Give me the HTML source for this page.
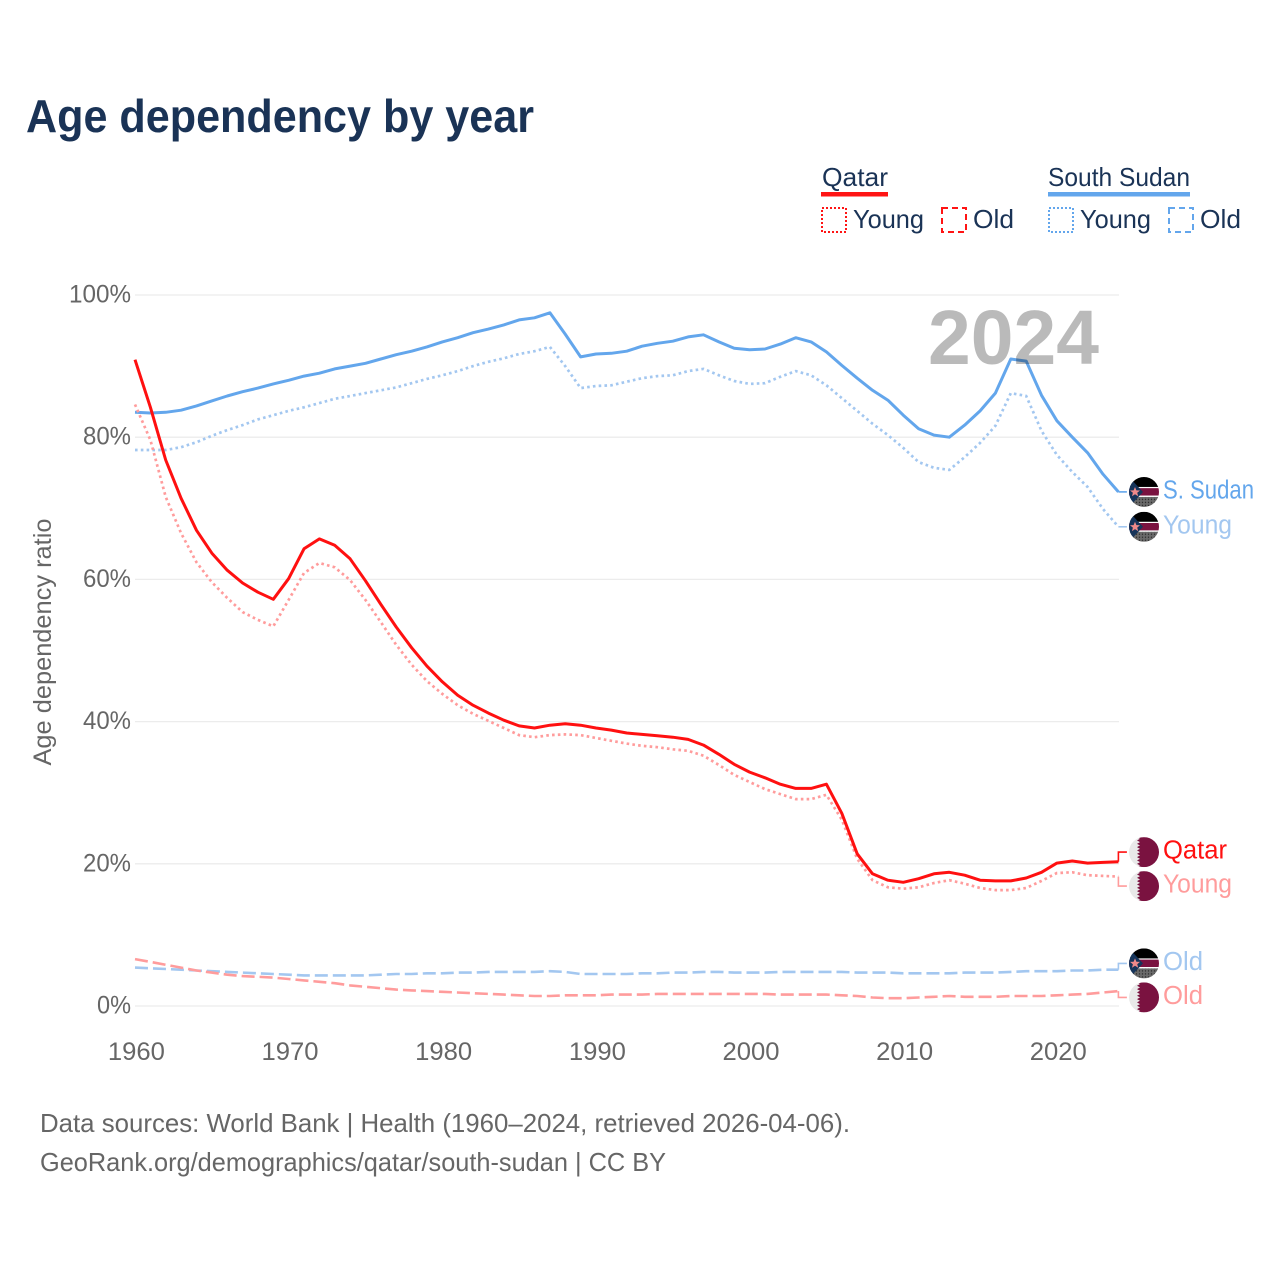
<!DOCTYPE html>
<html lang="en">
<head>
<meta charset="utf-8">
<title>Age dependency by year</title>
<style>
html,body{margin:0;padding:0;background:#fff;}
svg{display:block;}
text{font-family:"Liberation Sans",sans-serif;}
</style>
</head>
<body>
<svg id="chart" xmlns="http://www.w3.org/2000/svg" width="1280" height="1280" viewBox="0 0 1280 1280">
<defs>
  <clipPath id="flag-clip"><circle cx="0" cy="0" r="15"/></clipPath>
  <pattern id="ss-dots" width="3" height="3" patternUnits="userSpaceOnUse"><rect width="3" height="3" fill="#6a6a6a"/><circle cx="1.5" cy="1.5" r=".7" fill="#2c2c2c"/></pattern>
  <g id="flag-ss" clip-path="url(#flag-clip)">
    <rect x="-15" y="-15" width="30" height="30" fill="#fff"/>
    <rect x="-15" y="-15" width="30" height="10" fill="#000"/>
    <rect x="-15" y="-3.8" width="30" height="7.4" fill="#7a1240"/>
    <rect x="-15" y="5" width="30" height="10" fill="url(#ss-dots)"/>
    <polygon points="-15,-15 -1,0 -15,15" fill="#16345a"/>
    <polygon points="-9,-5 -7.6,-1.6 -4,-1.5 -6.8,.8 -5.8,4.3 -9,2.3 -12,4.3 -11.1,.8 -14,-1.5 -10.4,-1.6" fill="#f08a8a"/>
  </g>
  <g id="flag-qa" clip-path="url(#flag-clip)">
    <rect x="-15" y="-15" width="30" height="30" fill="#e9e9e9"/>
    <polygon points="-7,-15 -4,-13.3 -7,-11.7 -4,-10 -7,-8.3 -4,-6.7 -7,-5 -4,-3.3 -7,-1.7 -4,0 -7,1.7 -4,3.3 -7,5 -4,6.7 -7,8.3 -4,10 -7,11.7 -4,13.3 -7,15 15,15 15,-15" fill="#7a1240"/>
  </g>
</defs>

<text x="26" y="132" font-size="46" font-weight="700" fill="#1a3356" textLength="508" lengthAdjust="spacingAndGlyphs">Age dependency by year</text>

<g font-size="26" fill="#1a3356">
  <text x="822" y="186" textLength="66" lengthAdjust="spacingAndGlyphs">Qatar</text>
  <rect x="821" y="192" width="67" height="4.5" fill="#ff1414"/>
  <rect x="822" y="208" width="24" height="24" fill="none" stroke="#ff1414" stroke-width="2" stroke-dasharray="2 2"/>
  <text x="853" y="228" textLength="71" lengthAdjust="spacingAndGlyphs">Young</text>
  <rect x="942" y="208" width="24" height="24" fill="none" stroke="#ff1414" stroke-width="2" stroke-dasharray="6 4"/>
  <text x="973" y="228" textLength="41" lengthAdjust="spacingAndGlyphs">Old</text>
  <text x="1048" y="186" textLength="142" lengthAdjust="spacingAndGlyphs">South Sudan</text>
  <rect x="1048" y="192" width="142" height="4.5" fill="#63a6ec"/>
  <rect x="1049" y="208" width="24" height="24" fill="none" stroke="#63a6ec" stroke-width="2" stroke-dasharray="2 2"/>
  <text x="1080" y="228" textLength="71" lengthAdjust="spacingAndGlyphs">Young</text>
  <rect x="1169" y="208" width="24" height="24" fill="none" stroke="#63a6ec" stroke-width="2" stroke-dasharray="6 4"/>
  <text x="1200" y="228" textLength="41" lengthAdjust="spacingAndGlyphs">Old</text>
</g>

<g id="grid"></g>
<g id="y-ticks"></g>
<g id="x-ticks"></g>
<text transform="translate(51,642) rotate(-90)" text-anchor="middle" font-size="25" fill="#666" textLength="247" lengthAdjust="spacingAndGlyphs">Age dependency ratio</text>
<g id="series"></g>
<g id="labels"></g>
<text x="928" y="364" font-size="77" font-weight="700" fill="#000" fill-opacity=".27" textLength="171" lengthAdjust="spacingAndGlyphs">2024</text>

<text x="40" y="1132" font-size="26" fill="#666" textLength="810" lengthAdjust="spacingAndGlyphs">Data sources: World Bank | Health (1960–2024, retrieved 2026-04-06).</text>
<text x="40" y="1171" font-size="26" fill="#666" textLength="626" lengthAdjust="spacingAndGlyphs">GeoRank.org/demographics/qatar/south-sudan | CC BY</text>
</svg>

<script>
const startYear = 1960;
const xTickLabels = [1960, 1970, 1980, 1990, 2000, 2010, 2020];
const yTickLabels = [0, 20, 40, 60, 80, 100];

const qatarTotal = [90.9,84.2,76.8,71.4,66.9,63.7,61.3,59.5,58.2,57.2,60.1,64.3,65.7,64.8,62.9,59.8,56.5,53.3,50.4,47.8,45.6,43.7,42.3,41.2,40.2,39.4,39.1,39.5,39.7,39.5,39.1,38.8,38.4,38.2,38.0,37.8,37.5,36.7,35.4,34.0,32.9,32.1,31.2,30.6,30.6,31.2,27.1,21.4,18.6,17.7,17.4,17.9,18.6,18.8,18.4,17.7,17.6,17.6,18.0,18.8,20.1,20.4,20.1,20.2,20.3];
const qatarYoung = [84.6,79.6,71.6,66.5,62.4,59.6,57.4,55.4,54.3,53.4,57.1,60.9,62.3,61.7,59.9,57.1,54.0,50.8,48.0,45.7,43.9,42.3,41.1,40.1,39.1,38.1,37.8,38.1,38.2,38.1,37.7,37.3,36.9,36.6,36.4,36.1,35.9,35.2,33.9,32.5,31.5,30.5,29.8,29.1,29.1,29.7,26.2,20.7,17.7,16.7,16.5,16.7,17.3,17.7,17.2,16.6,16.3,16.3,16.6,17.6,18.7,18.8,18.4,18.3,18.2];
const qatarOld = [6.6,6.2,5.8,5.4,5.0,4.7,4.4,4.2,4.1,4.0,3.8,3.6,3.4,3.2,2.9,2.7,2.5,2.3,2.2,2.1,2.0,1.9,1.8,1.7,1.6,1.5,1.4,1.4,1.5,1.5,1.5,1.6,1.6,1.6,1.7,1.7,1.7,1.7,1.7,1.7,1.7,1.7,1.6,1.6,1.6,1.6,1.5,1.4,1.2,1.1,1.1,1.2,1.3,1.4,1.3,1.3,1.3,1.4,1.4,1.4,1.5,1.6,1.7,1.9,2.1];
const sudanTotal = [83.5,83.4,83.5,83.8,84.4,85.1,85.8,86.4,86.9,87.5,88.0,88.6,89.0,89.6,90.0,90.4,91.0,91.6,92.1,92.7,93.4,94.0,94.7,95.2,95.8,96.5,96.8,97.5,94.5,91.3,91.7,91.8,92.1,92.8,93.2,93.5,94.1,94.4,93.4,92.5,92.3,92.4,93.1,94.0,93.4,92.0,90.1,88.3,86.6,85.2,83.1,81.2,80.3,80.0,81.7,83.7,86.2,91.0,90.7,85.9,82.3,80.0,77.8,74.8,72.3];
const sudanYoung = [78.2,78.2,78.2,78.6,79.3,80.2,81.0,81.7,82.5,83.1,83.7,84.2,84.8,85.4,85.8,86.2,86.6,87.0,87.6,88.2,88.7,89.3,90.0,90.6,91.1,91.7,92.1,92.7,90.0,86.9,87.2,87.3,87.8,88.3,88.6,88.7,89.3,89.6,88.7,87.9,87.5,87.6,88.5,89.3,88.7,87.3,85.5,83.7,81.9,80.3,78.5,76.5,75.7,75.4,77.2,79.2,81.6,86.2,85.8,80.9,77.5,75.1,73.0,69.9,67.4];
const sudanOld = [5.4,5.3,5.2,5.1,5.0,4.9,4.8,4.7,4.6,4.5,4.4,4.3,4.3,4.3,4.3,4.3,4.4,4.5,4.5,4.6,4.6,4.7,4.7,4.8,4.8,4.8,4.8,4.9,4.8,4.5,4.5,4.5,4.5,4.6,4.6,4.7,4.7,4.8,4.8,4.7,4.7,4.7,4.8,4.8,4.8,4.8,4.8,4.7,4.7,4.7,4.6,4.6,4.6,4.6,4.7,4.7,4.7,4.8,4.9,4.9,4.9,5.0,5.0,5.1,5.1];

const NS = 'http://www.w3.org/2000/svg';
const xScale = year => 135 + (year - 1960) * 15.365;
const yScale = value => 1006 - value * 7.11;

function make(tag, parent, attrs, content) {
  const el = document.createElementNS(NS, tag);
  for (const k in attrs) el.setAttribute(k, attrs[k]);
  if (content !== undefined) el.textContent = content;
  parent.appendChild(el);
  return el;
}

const gridGroup = document.getElementById('grid');
const yGroup = document.getElementById('y-ticks');
yTickLabels.forEach(v => {
  const line = make('line', gridGroup, {x1: 135, x2: 1119, y1: yScale(v), y2: yScale(v), stroke: '#ececec', 'stroke-width': 1.3});
  
  
  const label = v + '%';
  const t = make('text', yGroup, {x: 131, y: yScale(v) + 7.5, 'text-anchor': 'end', 'font-size': 25, fill: '#666', textLength: (label.length - 1) * 14 + 20, lengthAdjust: 'spacingAndGlyphs'}, label);
  
  
});

const xGroup = document.getElementById('x-ticks');
xTickLabels.forEach(y => {
  const t = make('text', xGroup, {x: xScale(y) + 1.4, y: 1060, 'text-anchor': 'middle', 'font-size': 25, fill: '#666', textLength: 57, lengthAdjust: 'spacingAndGlyphs'}, String(y));
  
  
});

const seriesList = [
  {key: 'south-sudan-old', values: sudanOld, color: '#a3c7f0', dash: '13 5', w: 2.6, label: 'Old', flag: 'flag-ss', tw: 40},
  {key: 'south-sudan-young', values: sudanYoung, color: '#a3c7f0', dash: '2.6 3.2', w: 2.7, label: 'Young', flag: 'flag-ss', tw: 69},
  {key: 'south-sudan-total', values: sudanTotal, color: '#63a6ec', dash: '', w: 3, label: 'S. Sudan', flag: 'flag-ss', tw: 91},
  {key: 'qatar-old', values: qatarOld, color: '#ff9c9c', dash: '13 5', w: 2.6, label: 'Old', flag: 'flag-qa', tw: 40},
  {key: 'qatar-young', values: qatarYoung, color: '#ff9c9c', dash: '2.6 3.2', w: 2.7, label: 'Young', flag: 'flag-qa', tw: 69},
  {key: 'qatar-total', values: qatarTotal, color: '#ff1010', dash: '', w: 3, label: 'Qatar', flag: 'flag-qa', tw: 64}
];

/* End labels are dodged apart around their true end values. */
const minGap = 34;
const placed = seriesList.map(s => {
  const y0 = yScale(s.values[s.values.length - 1]);
  return {s: s, y0: y0, y: y0};
}).sort((a, b) => a.y0 - b.y0);
let clusters = placed.map(p => ({items: [p], centre: p.y0}));
let merged = true;
while (merged) {
  merged = false;
  for (let i = 0; i < clusters.length - 1; i++) {
    const a = clusters[i], b = clusters[i + 1];
    const aEnd = a.centre + (a.items.length - 1) * minGap / 2;
    const bStart = b.centre - (b.items.length - 1) * minGap / 2;
    if (bStart - aEnd < minGap) {
      const items = a.items.concat(b.items);
      const centre = items.reduce((sum, p) => sum + p.y0, 0) / items.length;
      clusters.splice(i, 2, {items: items, centre: centre});
      merged = true;
      break;
    }
  }
}
clusters.forEach(c => c.items.forEach((p, i) => {
  p.y = c.centre + (i - (c.items.length - 1) / 2) * minGap;
  p.s.labelY = p.y;
}));

const seriesGroup = document.getElementById('series');
seriesList.forEach(s => {
  const d = s.values.map((v, i) => (i ? 'L' : 'M') + xScale(startYear + i).toFixed(1) + ' ' + yScale(v).toFixed(1)).join(' ');
  const endX = xScale(startYear + s.values.length - 1);
  const lastY = yScale(s.values[s.values.length - 1]);
  const path = make('path', seriesGroup, {d: d, fill: 'none', stroke: s.color, 'stroke-width': s.w, 'stroke-linejoin': 'round'});
  if (s.dash) path.setAttribute('stroke-dasharray', s.dash);
  
  
  const stubD = 'M' + endX.toFixed(1) + ' ' + lastY.toFixed(1) + ' L' + endX.toFixed(1) + ' ' + s.labelY.toFixed(1) + ' L' + (endX + 8.5).toFixed(1) + ' ' + s.labelY.toFixed(1);
  const stub = make('path', seriesGroup, {d: stubD, fill: 'none', stroke: s.color, 'stroke-width': 1.6});
  
  
});

const labelGroup = document.getElementById('labels');
seriesList.forEach(s => {
  const flag = make('use', labelGroup, {href: '#' + s.flag, x: 1144, y: s.labelY});
  
  
  const t = make('text', labelGroup, {x: 1163, y: s.labelY + 6.5, 'font-size': 25.5, fill: s.color, textLength: s.tw, lengthAdjust: 'spacingAndGlyphs'}, s.label);
  
  
});
</script>
</body>
</html>
